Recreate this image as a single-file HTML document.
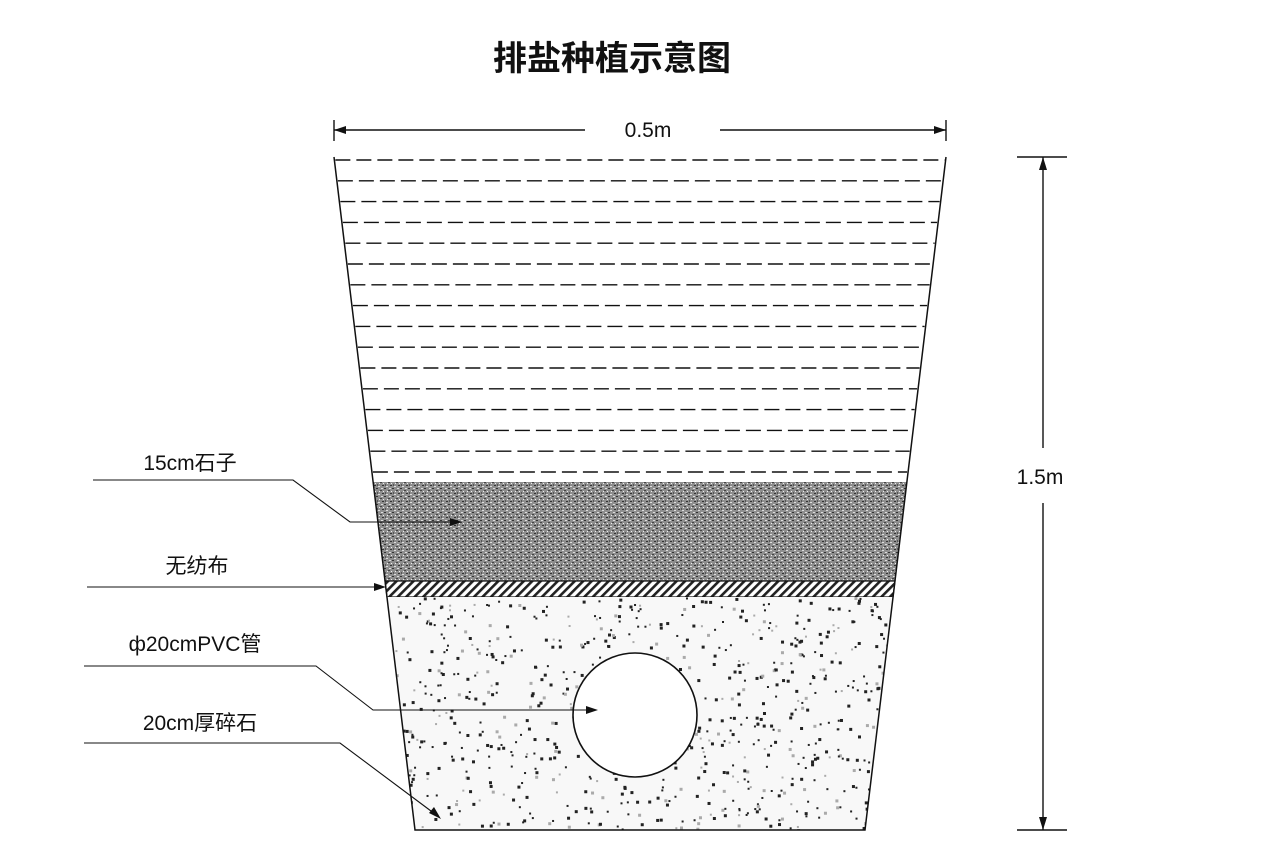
<!DOCTYPE html>
<html><head><meta charset="utf-8"><style>
html,body{margin:0;padding:0;background:#fff;}
svg{display:block}
text{font-family:"Liberation Sans","Noto Sans CJK SC",sans-serif;fill:#111}
</style></head><body>
<svg id="s" width="1270" height="857" viewBox="0 0 1270 857" xmlns="http://www.w3.org/2000/svg">
<defs>
<pattern id="hatch" width="6" height="6" patternUnits="userSpaceOnUse" patternTransform="rotate(45)">
<rect width="6" height="6" fill="#fff"/><rect width="2.6" height="6" fill="#222"/>
</pattern>
<pattern id="grav" width="8" height="8" patternUnits="userSpaceOnUse">
<rect width="8" height="8" fill="#8e8e8e"/>
<rect x="0" y="0" width="2" height="1" fill="#333"/><rect x="4" y="2" width="2" height="1" fill="#444"/>
<rect x="1" y="4" width="1" height="2" fill="#555"/><rect x="6" y="5" width="2" height="1" fill="#333"/>
<rect x="2" y="6" width="2" height="1" fill="#ddd"/><rect x="5" y="0" width="2" height="1" fill="#ddd"/>
<rect x="3" y="3" width="1" height="1" fill="#eee"/><rect x="7" y="3" width="1" height="1" fill="#eee"/>
</pattern>
<clipPath id="cs"><polygon points="387,597 893,597 865,830 415,830"/></clipPath>
</defs>
<text x="612" y="70" font-size="34" text-anchor="middle" font-weight="bold">排盐种植示意图</text>
<g stroke="#111" stroke-width="1.4">
<line x1="334" y1="130" x2="585" y2="130"/><line x1="720" y1="130" x2="946" y2="130"/>
<line x1="334" y1="120" x2="334" y2="141"/><line x1="946" y1="120" x2="946" y2="141"/>
<line x1="1043" y1="157" x2="1043" y2="448"/><line x1="1043" y1="503" x2="1043" y2="830"/>
<line x1="1017" y1="157" x2="1067" y2="157"/><line x1="1017" y1="830" x2="1067" y2="830"/>
</g>
<polygon points="334,130 346,126 346,134" fill="#111"/><polygon points="946,130 934,126 934,134" fill="#111"/>
<polygon points="1043,157 1039,170 1047,170" fill="#111"/><polygon points="1043,830 1039,817 1047,817" fill="#111"/>
<text x="648" y="137" font-size="21" text-anchor="middle">0.5m</text>
<text x="1040" y="484" font-size="21" text-anchor="middle">1.5m</text>
<polygon points="373,482 907,482 895,581 385,581" fill="url(#grav)"/>
<polygon points="385,581 895,581 893,597 387,597" fill="url(#hatch)" stroke="#111" stroke-width="1.2"/>
<polygon points="387,597 893,597 865,830 415,830" fill="#f8f8f8"/>
<g id="dots" clip-path="url(#cs)"></g>
<circle cx="635" cy="715" r="62" fill="#fff" stroke="#111" stroke-width="1.6"/>
<g id="dash" stroke="#111" stroke-width="1.4" stroke-dasharray="15,6"></g>
<polyline points="334,157 415,830 865,830 946,157" fill="none" stroke="#111" stroke-width="1.5"/>
<g stroke="#111" stroke-width="1.1" fill="none">
<polyline points="93,480 293,480 350,522 455,522"/>
<polyline points="87,587 378,587"/>
<polyline points="84,666 316,666 373,710 590,710"/>
<polyline points="84,743 340,743 435,814"/>
</g>
<polygon points="462,522 450,518 450,526" fill="#111"/>
<polygon points="386,587 374,583 374,591" fill="#111"/>
<polygon points="598,710 586,706 586,714" fill="#111"/>
<polygon points="441,819 429,813 434,807" fill="#111"/>
<text x="190" y="470" font-size="21" text-anchor="middle">15cm石子</text>
<text x="197" y="573" font-size="21" text-anchor="middle">无纺布</text>
<text x="195" y="651" font-size="21" text-anchor="middle">ф20cmPVC管</text>
<text x="200" y="730" font-size="21" text-anchor="middle">20cm厚碎石</text>
</svg>
<script>
var NS="http://www.w3.org/2000/svg";
var d=document.getElementById('dash');
for(var i=0;i<16;i++){var y=160+i*20.8;var l=334+(y-157)*81/673+1,r=946-(y-157)*81/673-1;
var ln=document.createElementNS(NS,'line');ln.setAttribute('x1',l);ln.setAttribute('x2',r);ln.setAttribute('y1',y);ln.setAttribute('y2',y);d.appendChild(ln);}
var g=document.getElementById('dots');var seed=7;function rnd(){seed=(seed*16807)%2147483647;return seed/2147483647;}
for(var i=0;i<800;i++){var c=document.createElementNS(NS,'rect');var x=385+rnd()*510,y=597+rnd()*235;
var s=rnd()<0.5?2:3;c.setAttribute('x',x);c.setAttribute('y',y);c.setAttribute('width',s);c.setAttribute('height',s);
c.setAttribute('fill',rnd()<0.75?'#222':'#aaa');g.appendChild(c);}
</script>
</body></html>
